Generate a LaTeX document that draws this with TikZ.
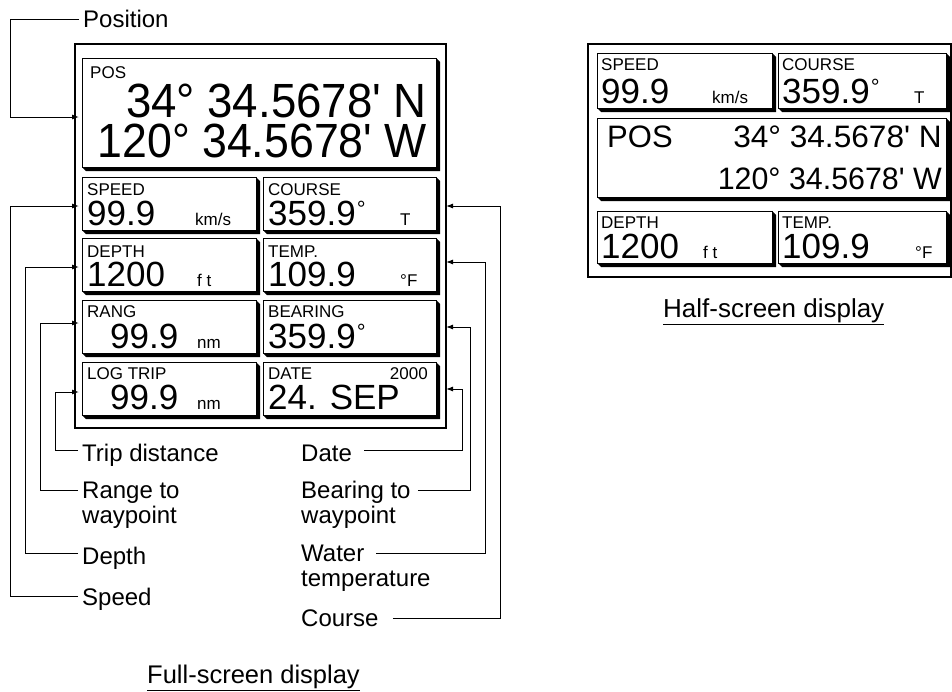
\documentclass[tikz,border=0pt]{standalone}
\usepackage{fontspec}
\setmainfont{Liberation Sans}[Ligatures=TeXOff]
\usepackage{graphicx}
\usetikzlibrary{arrows.meta,calc}
\newcommand\myfs[1]{\fontsize{#1}{#1}\selectfont}
\newcommand\mydeg{\hspace{1pt}\raisebox{9pt}{\myfs{22}°}}
\tikzset{
  frame/.style={draw, line width=2pt, inner sep=0pt, outer sep=0pt, anchor=north west},
  cellbox/.style={draw, fill=white, line width=1pt},
  cellshade/.style={fill=black},
  tag/.style={inner sep=0pt, anchor=base west, font=\myfs{17}},
  val/.style={inner sep=0pt, anchor=base west, font=\myfs{35}},
  unit/.style={inner sep=0pt, anchor=base west, font=\myfs{17}},
  lbl/.style={inner sep=0pt, anchor=base west, font=\fontsize{24}{25}\selectfont},
  ttl/.style={inner sep=0pt, anchor=base west},
  conn/.style={line width=1pt, -{Latex[length=7pt,width=5pt]}},
  lconn/.style={conn, shorten >=-4pt, shorten <=4pt},
}
\newcommand\cell[4]{%
  \fill[cellshade] (#3,#2) -- (#3+4,#2+4) -- (#3+4,#4+4) -- (#1+4,#4+4) -- (#1,#4) -- cycle;
  \draw[cellbox] (#1,#2) rectangle (#3,#4);
}
\begin{document}
\begin{tikzpicture}[x=1pt,y=-1pt]
\useasboundingbox (0,0) rectangle (952,691);

% ===== Full-screen display =====
\node[frame, minimum width=371pt, minimum height=384pt] (full) at (75,44) {};
\cell{82}{58}{436}{167}
\cell{82}{177}{256}{230}
\cell{263}{177}{436}{230}
\cell{82}{238}{256}{291}
\cell{263}{238}{436}{291}
\cell{82}{300}{256}{353}
\cell{263}{300}{436}{353}
\cell{82}{362}{256}{415}
\cell{263}{362}{436}{415}

\node[tag] (fPosT) at (90,78) {POS};
\node[inner sep=0pt, anchor=base east, font=\myfs{48}] (fPosA) at (427,117) {\scalebox{0.95}[1]{34° 34.5678' N}};
\node[inner sep=0pt, anchor=base east, font=\myfs{48}] (fPosB) at (427,157) {\scalebox{0.93}[1]{120° 34.5678' W}};

\node[tag] (fSpdT) at (87,195) {SPEED};
\node[val] (fSpdV) at (87,225) {99.9};
\node[unit] (fSpdU) at (195,225) {km/s};
\node[tag] (fCrsT) at (268,195) {COURSE};
\node[val] (fCrsV) at (268,225) {359.9\mydeg};
\node[unit] (fCrsU) at (400,225) {T};

\node[tag] (fDepT) at (87,257) {DEPTH};
\node[val] (fDepV) at (87,286) {1200};
\node[unit] (fDepU) at (197,286) {f t};
\node[tag] (fTmpT) at (268,257) {TEMP.};
\node[val] (fTmpV) at (268,286) {109.9};
\node[unit] (fTmpU) at (400,286) {°F};

\node[tag] (fRngT) at (87,317) {RANG};
\node[val] (fRngV) at (110,348) {99.9};
\node[unit] (fRngU) at (197,348) {nm};
\node[tag] (fBrgT) at (268,317) {BEARING};
\node[val] (fBrgV) at (268,348) {359.9\mydeg};

\node[tag] (fLogT) at (87,379) {LOG TRIP};
\node[val] (fLogV) at (110,409) {99.9};
\node[unit] (fLogU) at (197,409) {nm};
\node[tag] (fDatT) at (268,379) {DATE};
\node[inner sep=0pt, anchor=base east, font=\myfs{17}] (fDatY) at (428,379) {2000};
\node[val] (fDatV) at (268,409) {24. SEP};

% ===== Labels =====
\node[lbl] (lPos) at (83,27) {Position};
\node[lbl] (lTrip) at (82,461) {Trip distance};
\node[lbl] (lRange) at (82,498) {\vtop{\hbox{Range to}\hbox{waypoint}}};
\node[lbl] (lDepth) at (82,564) {Depth};
\node[lbl] (lSpeed) at (82,605) {Speed};
\node[lbl] (lDate) at (301,461) {Date};
\node[lbl] (lBear) at (301,498) {\vtop{\hbox{Bearing to}\hbox{waypoint}}};
\node[lbl] (lWater) at (301,561) {\vtop{\hbox{Water}\hbox{temperature}}};
\node[lbl] (lCourse) at (301,626) {Course};

% ===== Connectors =====
\draw[lconn] (lPos.west |- 0,19) -- (10,19) |- (full.west |- 0,117);
\draw[lconn] (lSpeed.west |- 0,596) -| (10,206) -- (full.west |- 0,206);
\draw[lconn] (lDepth.west |- 0,553) -| (25,267) -- (full.west |- 0,267);
\draw[lconn] (lRange.west |- 0,490) -| (40,323) -- (full.west |- 0,323);
\draw[lconn] (lTrip.west |- 0,450) -| (55,392) -- (full.west |- 0,392);

\draw[conn, shorten <=12pt] (lDate.east |- 0,450) -| (462,389) -- (full.east |- 0,389);
\draw[conn, shorten <=7pt] (lBear.east |- 0,490) -| (470,327) -- (full.east |- 0,327);
\coordinate (wWater) at ($(lWater.base west)+(75,-8)$);
\draw[conn] (wWater) -| (485,262) -- (full.east |- 0,262);
\draw[conn, shorten <=14pt] (lCourse.east |- 0,618) -| (500,206) -- (full.east |- 0,206);

\node[ttl, font=\myfs{25.5}] (tFull) at (147,683) {\underline{Full-screen display}};

% ===== Half-screen display =====
\node[frame, minimum width=363pt, minimum height=233pt] (half) at (588,44) {};
\cell{597}{53}{772}{108}
\cell{778}{53}{946}{108}
\cell{597}{118}{946}{197}
\cell{597}{211}{772}{263}
\cell{778}{211}{946}{263}

\node[tag] (hSpdT) at (601,70) {SPEED};
\node[val] (hSpdV) at (601,103) {99.9};
\node[unit] (hSpdU) at (712,103) {km/s};
\node[tag] (hCrsT) at (782,70) {COURSE};
\node[val] (hCrsV) at (782,103) {359.9\mydeg};
\node[unit] (hCrsU) at (914,103) {T};

\node[inner sep=0pt, anchor=base west, font=\myfs{31}] (hPosT) at (607,147) {POS};
\node[inner sep=0pt, anchor=base east, font=\myfs{31}] (hPosA) at (942,147) {\scalebox{1.02}[1]{34° 34.5678' N}};
\node[inner sep=0pt, anchor=base east, font=\myfs{31}] (hPosB) at (942,189) {\scalebox{0.98}[1]{120° 34.5678' W}};

\node[tag] (hDepT) at (601,228) {DEPTH};
\node[val] (hDepV) at (601,258) {1200};
\node[unit] (hDepU) at (703,258) {f t};
\node[tag] (hTmpT) at (782,228) {TEMP.};
\node[val] (hTmpV) at (782,258) {109.9};
\node[unit] (hTmpU) at (915,258) {°F};

\node[ttl, font=\myfs{26}] (tHalf) at (663,317) {\underline{Half-screen display}};
\end{tikzpicture}
\end{document}
